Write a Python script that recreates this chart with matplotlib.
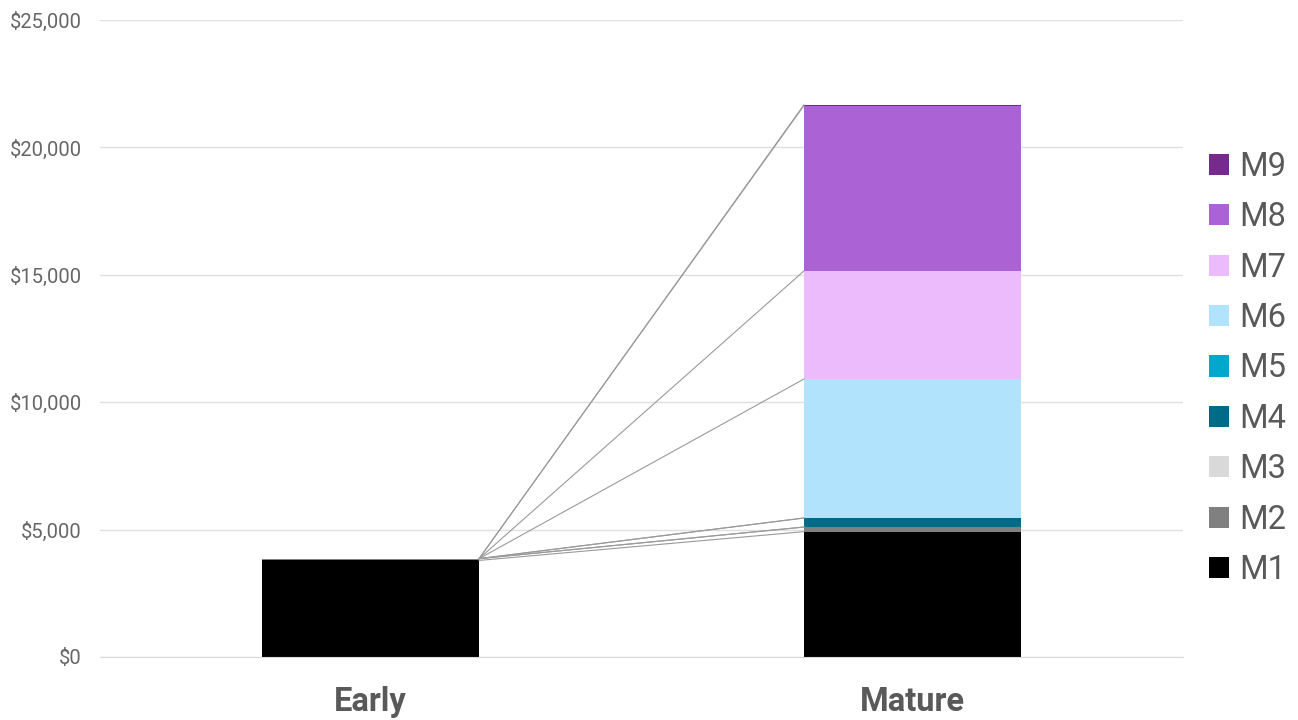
import matplotlib
matplotlib.use("Agg")
import matplotlib.pyplot as plt
from matplotlib.ticker import FuncFormatter
from matplotlib.patches import Patch
import numpy as np

plt.rcParams['font.family'] = ['Roboto', 'DejaVu Sans']

categories = ["Early", "Mature"]
series_names = ["M1", "M2", "M3", "M4", "M5", "M6", "M7", "M8", "M9"]
series_colors = ["#000000", "#808080", "#d9d9d9", "#006b87", "#00a8cc",
                 "#b1e3fd", "#ebbbfc", "#aa62d4", "#762a8b"]
early_values = [3790, 70, 0, 0, 0, 0, 0, 0, 0]
mature_values = [4920, 180, 0, 355, 0, 5455, 4240, 6490, 30]

fig = plt.figure(figsize=(12.98, 7.2), dpi=100)
ax = fig.add_axes([100/1298, 63/720, 1083/1298, 637/720])

x = np.arange(len(categories))
width = 0.4
data = np.array([early_values, mature_values]).T  # series x categories
bottoms = np.zeros(len(categories))
for name, color, vals in zip(series_names, series_colors, data):
    ax.bar(x, vals, width, bottom=bottoms, color=color, label=name, zorder=2)
    bottoms = bottoms + vals

# series connector lines between stack tops
cum = np.cumsum(data, axis=0)
for row in cum:
    ax.plot([x[0] + width/2, x[1] - width/2], [row[0], row[1]],
            color="#9a9a9a", lw=0.8, zorder=3)

ax.set_xlim(-0.5, 1.5)
ax.set_ylim(0, 25000)
ax.set_yticks(np.arange(0, 25001, 5000))
ax.yaxis.set_major_formatter(FuncFormatter(lambda v, p: f"${v:,.0f}"))
ax.grid(axis="y", color="#e0e0e0", lw=1, zorder=0)
ax.set_axisbelow(True)
for s in ["top", "right", "left"]:
    ax.spines[s].set_visible(False)
ax.spines["bottom"].set_color("#d9d9d9")
ax.tick_params(axis="y", length=0, pad=13, labelsize=14.5, labelcolor="#666666")
ax.tick_params(axis="x", length=0, pad=21, labelsize=23.5, labelcolor="#595959")
ax.set_xticks(x)
ax.set_xticklabels(categories, fontweight="bold")

handles = [Patch(facecolor=c, label=n) for n, c in zip(series_names, series_colors)][::-1]
fig.legend(handles=handles, loc="center left", bbox_to_anchor=(1209/1298, 1 - 368.5/720),
           frameon=False, fontsize=23.5, labelcolor="#595959",
           handlelength=0.62, handleheight=0.62, handletextpad=0.3,
           labelspacing=0.565, borderaxespad=0, borderpad=0)

fig.savefig("out.png", dpi=100)
